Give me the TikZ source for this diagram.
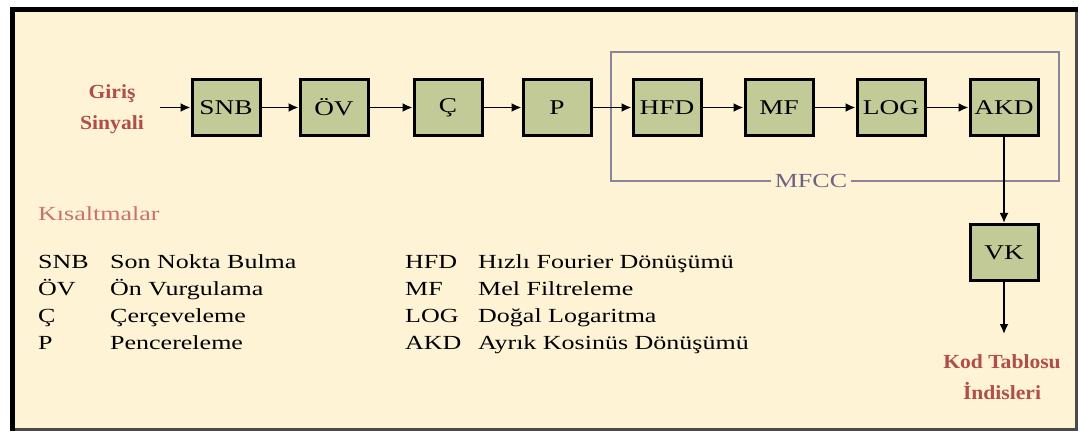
\documentclass[tikz,border=0pt]{standalone}
\usepackage{fontspec}
\setmainfont{Liberation Serif}[FakeStretch=1.3]
\newfontfamily\lblfont{Liberation Serif}[FakeStretch=1.08]
\usetikzlibrary{arrows.meta}
\definecolor{cream}{HTML}{FFF3D6}
\definecolor{boxfill}{HTML}{C2CA98}
\definecolor{redtxt}{HTML}{B04E48}
\definecolor{pinktxt}{HTML}{C9726B}
\definecolor{mfccline}{HTML}{8E8499}
\definecolor{mfcctxt}{HTML}{6B6383}
\definecolor{framegray}{HTML}{4A4A4A}
\begin{document}
\begin{tikzpicture}[x=1pt,y=-1pt,
  blk/.style={draw=black, line width=3pt, fill=boxfill, minimum width=68pt, minimum height=56pt, inner sep=0pt, font=\fontsize{21}{24}\selectfont},
  conn/.style={line width=1.8pt, -{Latex[length=10pt,width=9pt]}},
  lbl/.style={text=redtxt, font=\lblfont\fontsize{20}{31}\selectfont\bfseries, align=center, inner sep=0pt},
  abbr/.style={anchor=base west, inner sep=0pt, font=\fontsize{20}{24}\selectfont}]
\useasboundingbox (0,0) rectangle (1080,433);
\fill[white] (0,0) rectangle (1080,433);
% outer frame
\fill[cream] (12,10) rectangle (1076,429);
\draw[framegray, line width=3pt] (12,429) -- (1076,429) -- (1076,10);
\draw[black, line width=5pt] (12,431) -- (12,10) -- (1078,10);
% MFCC frame
\draw[mfccline, line width=2.5pt] (611,52) rectangle (1059,181);
\node[fill=cream, text=mfcctxt, font=\fontsize{20}{24}\selectfont, inner sep=4pt] (mfcc) at (811,181) {MFCC};
% blocks
\node[blk] (snb) at (226,107.5) {SNB};
\node[blk] (ov)  at (334,107.5) {ÖV};
\node[blk] (c)   at (448,107.5) {Ç};
\node[blk] (p)   at (557,107.5) {P};
\node[blk] (hfd) at (667,107.5) {HFD};
\node[blk] (mf)  at (779,107.5) {MF};
\node[blk] (log) at (891,107.5) {LOG};
\node[blk] (akd) at (1004,107.5) {AKD};
\node[blk] (vk)  at (1004,252.5) {VK};
% input / output
\node[lbl] (in) at (112,109.5) {Giriş\\Sinyali};
\coordinate (inpt) at (160,107.5);
\coordinate (outpt) at (1004,334);
\node[lbl] (out) at (1002,377) {Kod Tablosu\\İndisleri};
% connectors
\draw[conn] (inpt) -- (snb);
\draw[conn] (snb) -- (ov);
\draw[conn] (ov) -- (c);
\draw[conn] (c) -- (p);
\draw[conn] (p) -- (hfd);
\draw[conn] (hfd) -- (mf);
\draw[conn] (mf) -- (log);
\draw[conn] (log) -- (akd);
\draw[conn] (akd) -- (vk);
\draw[conn] (vk) -- (outpt);
% legend
\node[abbr, text=pinktxt] (kis) at (38,221) {Kısaltmalar};
\node[abbr] (a1) at (38,268) {SNB};
\node[abbr] (d1) at (110,268) {Son Nokta Bulma};
\node[abbr] (a2) at (38,295) {ÖV};
\node[abbr] (d2) at (110,295) {Ön Vurgulama};
\node[abbr] (a3) at (38,322) {Ç};
\node[abbr] (d3) at (110,322) {Çerçeveleme};
\node[abbr] (a4) at (38,349) {P};
\node[abbr] (d4) at (110,349) {Pencereleme};
\node[abbr] (a5) at (405,268) {HFD};
\node[abbr] (d5) at (478,268) {Hızlı Fourier Dönüşümü};
\node[abbr] (a6) at (405,295) {MF};
\node[abbr] (d6) at (478,295) {Mel Filtreleme};
\node[abbr] (a7) at (405,322) {LOG};
\node[abbr] (d7) at (478,322) {Doğal Logaritma};
\node[abbr] (a8) at (405,349) {AKD};
\node[abbr] (d8) at (478,349) {Ayrık Kosinüs Dönüşümü};
\end{tikzpicture}
\end{document}
